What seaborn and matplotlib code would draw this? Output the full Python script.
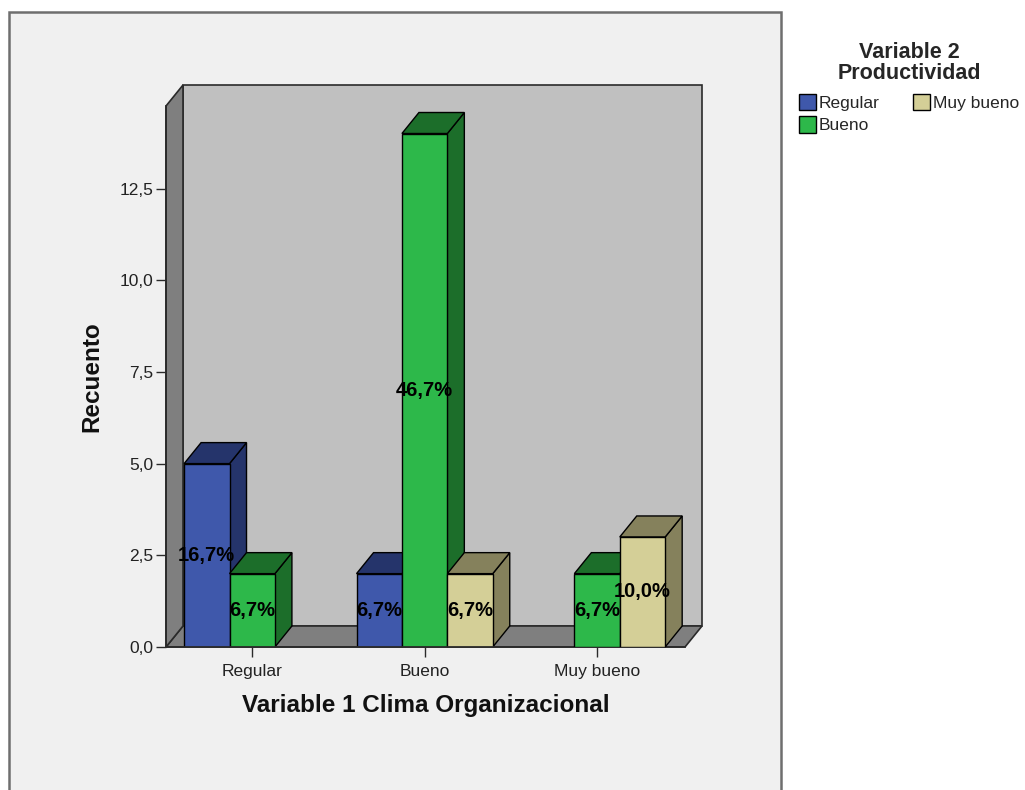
import numpy as np
import pandas as pd
import matplotlib
matplotlib.use("Agg")
import matplotlib.pyplot as plt
from matplotlib.patches import Polygon, Rectangle, Patch
import seaborn as sns

# Counts of Variable 2 (Productividad) within each level of Variable 1
clima = ["Regular", "Regular", "Bueno", "Bueno", "Bueno", "Muy bueno", "Muy bueno"]
productividad = ["Regular", "Bueno", "Regular", "Bueno", "Muy bueno", "Bueno", "Muy bueno"]
recuento = [5, 2, 2, 14, 2, 2, 3]

categorias = ["Regular", "Bueno", "Muy bueno"]
niveles = ["Regular", "Bueno", "Muy bueno"]
y_ticks = [0.0, 2.5, 5.0, 7.5, 10.0, 12.5]

df = pd.DataFrame({"clima": clima, "productividad": productividad, "recuento": recuento})
total = df["recuento"].sum()

front_colors = {"Regular": "#3f58ab", "Bueno": "#2db84a", "Muy bueno": "#d4cf97"}
dark_colors = {"Regular": "#25346b", "Bueno": "#1c6e2a", "Muy bueno": "#85815c"}

sns.set_theme(style="white")
plt.rcParams["font.family"] = ["Liberation Sans", "DejaVu Sans"]

W, H, DPI = 1025, 790, 100
fig = plt.figure(figsize=(W / DPI, H / DPI), dpi=DPI)
fig.patch.set_facecolor("white")

# Chart frame
frame = Rectangle((9 / W, -0.02), (781 - 9) / W, (H - 12) / H + 0.02, transform=fig.transFigure,
                  facecolor="#f0f0f0", edgecolor="#6e6e6e", linewidth=1.8, zorder=-5)
fig.patches.append(frame)

# Front plane of the plot area (pixel box)
left_px, right_px, top_px, bottom_px = 166, 685, 106, 647
ax = fig.add_axes([left_px / W, 1 - bottom_px / H, (right_px - left_px) / W, (bottom_px - top_px) / H])
ax.patch.set_alpha(0)

sns.barplot(data=df, x="clima", y="recuento", hue="productividad", order=categorias,
            hue_order=niveles, palette=front_colors, width=0.79, dodge=True,
            edgecolor="black", linewidth=1.0, saturation=1, errorbar=None, ax=ax, legend=False)

ax.set_xlim(-0.5, 2.51)
ax.set_ylim(0, 14.75)
fig.canvas.draw()

# Depth offset of the 3D effect, in pixels
DX, DY = 17, 21
to_disp = ax.transData.transform


def face(points_data, offsets, **kw):
    pts = []
    for (x, y), off in zip(points_data, offsets):
        px, py = to_disp((x, y))
        if off:
            px, py = px + DX, py + DY
        pts.append((px, py))
    p = Polygon(pts, closed=True, transform=None, **kw)
    ax.add_artist(p)
    p.set_clip_on(False)
    return p


x0, x1 = ax.get_xlim()
y0, y1 = ax.get_ylim()

# Back wall, floor and left wall
face([(x0, y0), (x1, y0), (x1, y1), (x0, y1)], [1, 1, 1, 1],
     facecolor="#c0c0c0", edgecolor="#2a2a2a", linewidth=1.2, zorder=0.5)
face([(x0, y0), (x1, y0), (x1, y0), (x0, y0)], [0, 0, 1, 1],
     facecolor="#7f7f7f", edgecolor="#2a2a2a", linewidth=1.2, zorder=0.6)
face([(x0, y0), (x0, y1), (x0, y1), (x0, y0)], [0, 0, 1, 1],
     facecolor="#7f7f7f", edgecolor="#2a2a2a", linewidth=1.2, zorder=0.7)

# 3D faces for each bar, drawn left to right
bars = [b for b in ax.patches if isinstance(b, Rectangle) and b.get_height() > 0]
bars.sort(key=lambda b: b.get_x())
for i, b in enumerate(bars):
    fc = matplotlib.colors.to_hex(b.get_facecolor())
    key = [k for k, v in front_colors.items() if v == fc][0]
    dc = dark_colors[key]
    x, w, h = b.get_x(), b.get_width(), b.get_height()
    base = 2 + i * 0.1
    face([(x + w, 0), (x + w, h), (x + w, h), (x + w, 0)], [0, 0, 1, 1],
         facecolor=dc, edgecolor="black", linewidth=1.0, zorder=base)
    face([(x, h), (x + w, h), (x + w, h), (x, h)], [0, 0, 1, 1],
         facecolor=dc, edgecolor="black", linewidth=1.0, zorder=base)
    b.set_zorder(base + 0.05)
    pct = f"{h / total * 100:.1f}%".replace(".", ",")
    ax.text(x + w / 2, h / 2, pct, ha="center", va="center", fontsize=14.5,
            fontweight="bold", color="black", zorder=10)

# Axes styling
for s in ["top", "right"]:
    ax.spines[s].set_visible(False)
ax.spines["left"].set_color("#2a2a2a")
ax.spines["bottom"].set_color("#2a2a2a")
ax.set_yticks(y_ticks)
ax.set_yticklabels([f"{v:.1f}".replace(".", ",") for v in y_ticks])
ax.set_xticks(range(len(categorias)))
ax.set_xticklabels(categorias)
ax.tick_params(axis="both", direction="out", length=7, width=1, color="#2a2a2a",
               labelsize=12.5, labelcolor="#222222", left=True, bottom=True)
ax.tick_params(axis="x", pad=5)
ax.tick_params(axis="y", pad=2)
ax.set_xlabel("Variable 1 Clima Organizacional", fontsize=17.5, fontweight="bold",
              color="#111111", labelpad=11)
ax.set_ylabel("Recuento", fontsize=17.5, fontweight="bold", color="#111111", labelpad=12)
ax.grid(False)

# Legend
handles = [Patch(facecolor=front_colors[k], edgecolor="black", linewidth=1.0) for k in niveles]
leg = fig.legend(handles, niveles, title="Variable 2\nProductividad", ncol=2,
                 loc="upper left", bbox_to_anchor=(792 / W, 1 - 35 / H), frameon=False,
                 fontsize=12.5, title_fontproperties={"weight": "bold", "size": 15.5},
                 handlelength=1.0, handleheight=1.1, handletextpad=0.15,
                 columnspacing=1.9, labelspacing=0.3, borderaxespad=0)
leg.get_title().set_multialignment("center")
leg.get_title().set_linespacing(1.0)
leg._legend_box.sep = 7

fig.savefig("out.png", dpi=DPI)
